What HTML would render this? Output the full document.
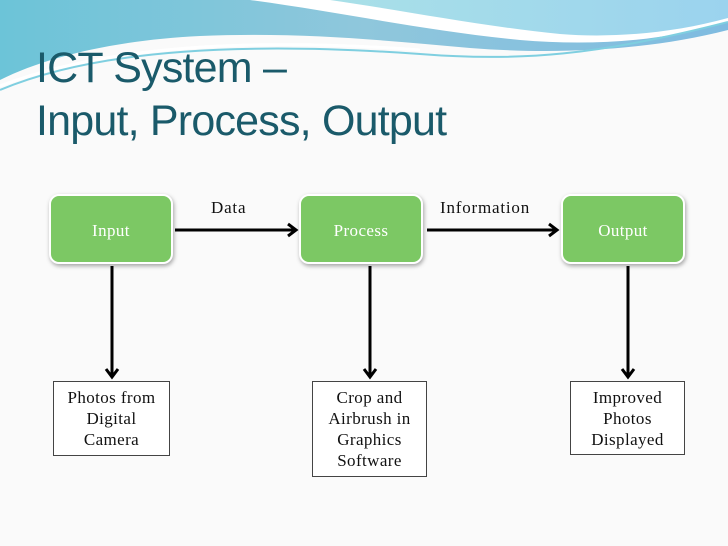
<!DOCTYPE html>
<html><head><meta charset="utf-8"><style>
html,body{margin:0;padding:0}
body{width:728px;height:546px;position:relative;overflow:hidden;background:#fafafa;font-family:"Liberation Serif",serif}
.t{position:absolute;left:36px;color:#1a5a6a;font-family:"Liberation Sans",sans-serif;font-size:43px;letter-spacing:-0.8px;white-space:nowrap}
.g{position:absolute;top:194px;width:124px;height:70px;background:#7cc864;border:2px solid #fff;border-radius:10px;box-shadow:1px 2px 4px rgba(0,0,0,.35);color:#fff;font-size:17px;letter-spacing:0.4px;display:flex;align-items:center;justify-content:center;box-sizing:border-box;padding-top:4px}
.w{position:absolute;top:381px;border:1.5px solid #444;background:#fff;box-sizing:border-box;text-align:center;font-size:17px;letter-spacing:0.4px;line-height:21px;padding-top:5px;color:#111;white-space:nowrap}
.l{position:absolute;font-size:17px;letter-spacing:0.8px;color:#111}
</style></head><body>
<svg width="728" height="546" style="position:absolute;left:0;top:0">
<defs>
<linearGradient id="a" x1="0" y1="0" x2="1" y2="0"><stop offset="0" stop-color="#6cc4d8"/><stop offset="0.5" stop-color="#8fc7dc"/><stop offset="1" stop-color="#7fbbe0"/></linearGradient>
<linearGradient id="b" x1="0" y1="0" x2="1" y2="0"><stop offset="0" stop-color="#a9e0e8"/><stop offset="1" stop-color="#9bd3ee"/></linearGradient>
</defs>
<path d="M0 0 H728 V30 C650 50 560 55 470 48 C380 40 300 32 200 36 C120 40 50 55 0 80 Z" fill="url(#a)"/>
<path d="M250 0 H728 V22 C660 42 590 46 520 40 C420 30 340 12 250 0 Z" fill="#fff"/>
<path d="M330 0 H728 V18 C670 34 610 38 560 34 C480 26 400 10 330 0 Z" fill="url(#b)"/>
<path d="M0 90 C100 48 250 42 420 54 C520 62 600 55 728 22" stroke="#7fcfe0" stroke-width="2" fill="none"/>
<path d="M0 86 C110 44 260 38 420 50" stroke="#fff" stroke-width="3" fill="none"/>
<g stroke="#000" stroke-width="3" fill="none">
<line x1="175" y1="230" x2="296" y2="230"/><polyline points="288,224 296,230 288,236"/>
<line x1="427" y1="230" x2="557" y2="230"/><polyline points="549,224 557,230 549,236"/>
<line x1="112" y1="266" x2="112" y2="377"/><polyline points="106,369 112,377 118,369"/>
<line x1="370" y1="266" x2="370" y2="377"/><polyline points="364,369 370,377 376,369"/>
<line x1="628" y1="266" x2="628" y2="377"/><polyline points="622,369 628,377 634,369"/>
</g>
</svg>
<div class="t" style="top:44px">ICT System –</div>
<div class="t" style="top:97px">Input, Process, Output</div>
<div class="g" style="left:49px">Input</div>
<div class="g" style="left:299px">Process</div>
<div class="g" style="left:561px">Output</div>
<div class="l" style="left:211px;top:198px">Data</div>
<div class="l" style="left:440px;top:198px">Information</div>
<div class="w" style="left:53px;width:117px;height:75px">Photos from<br>Digital<br>Camera</div>
<div class="w" style="left:312px;width:115px;height:96px">Crop and<br>Airbrush in<br>Graphics<br>Software</div>
<div class="w" style="left:570px;width:115px;height:74px">Improved<br>Photos<br>Displayed</div>
</body></html>
